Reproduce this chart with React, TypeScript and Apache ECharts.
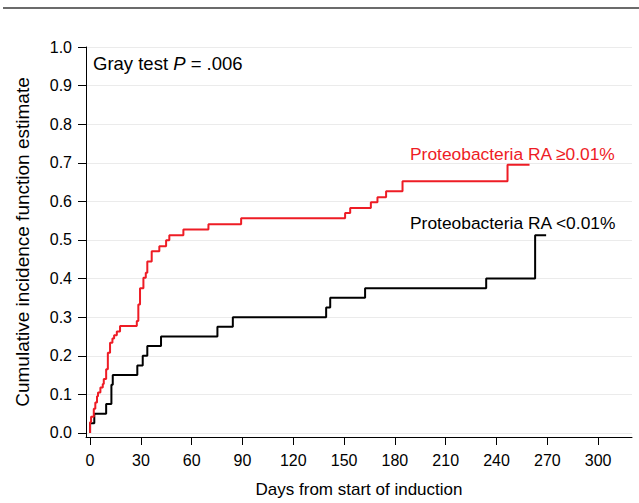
import React, { useEffect, useRef } from "react";
import * as echarts from "echarts";

const FONT = "'Liberation Sans', Arial, Helvetica, sans-serif";

// Step points: days from start of induction, cumulative incidence
const redDays = [0, 0, 0.6, 2.2, 3.1, 4.1, 4.7, 6.1, 7.5, 8.1, 9.5, 10.5, 11.8, 13.2, 14.2, 15.8, 17.7, 27.6, 28.5, 29.5, 31.5, 32.9, 33.8, 36.4, 40.9, 44.9, 46.8, 55.1, 69.9, 89.2, 150.6, 153.6, 165.8, 169.7, 174.8, 184.5, 246.5, 259.5];
const redCif = [0, 0.028, 0.042, 0.063, 0.079, 0.095, 0.105, 0.118, 0.127, 0.14, 0.165, 0.208, 0.234, 0.245, 0.253, 0.263, 0.277, 0.29, 0.333, 0.375, 0.402, 0.415, 0.444, 0.471, 0.484, 0.499, 0.512, 0.527, 0.541, 0.556, 0.57, 0.583, 0.598, 0.611, 0.626, 0.652, 0.695, 0.695];

const blackDays = [0, 0, 2.5, 9.5, 12.6, 13.4, 27.9, 31.1, 33.8, 41.9, 75.2, 84.3, 139.4, 141.8, 162.4, 233.9, 262.8, 269.3];
const blackCif = [0, 0.025, 0.05, 0.075, 0.125, 0.15, 0.175, 0.2, 0.225, 0.25, 0.275, 0.3, 0.325, 0.35, 0.375, 0.4, 0.5125, 0.5125];

const xTicks = [0, 30, 60, 90, 120, 150, 180, 210, 240, 270, 300];
const yTicks = [0, 0.1, 0.2, 0.3, 0.4, 0.5, 0.6, 0.7, 0.8, 0.9, 1.0];

const redLabel = "Proteobacteria RA ≥0.01%";
const blackLabel = "Proteobacteria RA <0.01%";
const xTitle = "Days from start of induction";
const yTitle = "Cumulative incidence function estimate";

const RED = "#ee1c25";

export default function App() {
  const ref = useRef<HTMLDivElement>(null);
  useEffect(() => {
    if (!ref.current) return;
    const chart = echarts.init(ref.current, null, { renderer: "svg" });
    const zip = (xs: number[], ys: number[]) => xs.map((x, i) => [x, ys[i]]);
    chart.setOption({
      animation: false,
      backgroundColor: "#fff",
      grid: { left: 86, right: 7, top: 47, bottom: 65, containLabel: false },
      xAxis: {
        type: "value",
        min: -2.4,
        max: 320,
        axisLine: { show: true, onZero: false, lineStyle: { color: "#000", width: 1 } },
        axisTick: { show: true, customValues: xTicks, length: 8, lineStyle: { color: "#000", width: 1 } },
        axisLabel: { customValues: xTicks, margin: 15, fontSize: 16, color: "#000", fontFamily: FONT },
        splitLine: { show: false },
        name: xTitle,
        nameLocation: "middle",
        nameGap: 44,
        nameTextStyle: { fontSize: 17, color: "#000", fontFamily: FONT },
      },
      yAxis: {
        type: "value",
        min: -0.0105,
        max: 1.0,
        axisLine: { show: true, onZero: false, lineStyle: { color: "#000", width: 1 } },
        axisTick: { show: true, customValues: yTicks, length: 8, lineStyle: { color: "#000", width: 1 } },
        axisLabel: {
          customValues: yTicks,
          margin: 14,
          fontSize: 16,
          color: "#000",
          fontFamily: FONT,
          formatter: (v: number) => v.toFixed(1),
        },
        splitLine: { show: true, lineStyle: { color: "#ebebeb", width: 1 } },
        name: yTitle,
        nameLocation: "middle",
        nameGap: 54,
        nameTextStyle: { fontSize: 19, color: "#000", fontFamily: FONT },
      },
      series: [
        {
          type: "line",
          step: "end",
          data: zip(blackDays, blackCif),
          showSymbol: false,
          symbol: "none",
          lineStyle: { color: "#000", width: 2 },
          z: 3,
        },
        {
          type: "line",
          step: "end",
          data: zip(redDays, redCif),
          showSymbol: false,
          symbol: "none",
          lineStyle: { color: RED, width: 2 },
          z: 4,
        },
      ],
      graphic: [
        {
          type: "line",
          shape: { x1: 3, y1: 8, x2: 639, y2: 8 },
          style: { stroke: "#3a3a3a", lineWidth: 1.5 },
        },
        {
          type: "text",
          left: 93,
          top: 54,
          style: {
            text: "{a|Gray test }{b|P}{a| = .006}",
            rich: {
              a: { fontSize: 18.5, fontFamily: FONT, fill: "#000" },
              b: { fontSize: 18.5, fontFamily: FONT, fill: "#000", fontStyle: "italic" },
            },
          },
        },
        {
          type: "text",
          left: 410,
          top: 145,
          style: { text: redLabel, fontSize: 17.4, fontFamily: FONT, fill: RED },
        },
        {
          type: "text",
          left: 410,
          top: 214,
          style: { text: blackLabel, fontSize: 17.4, fontFamily: FONT, fill: "#000" },
        },
      ],
    });
    return () => chart.dispose();
  }, []);
  return (
    <div
      ref={ref}
      style={{ position: "absolute", left: 0, top: 0, width: 639, height: 503 }}
    />
  );
}
